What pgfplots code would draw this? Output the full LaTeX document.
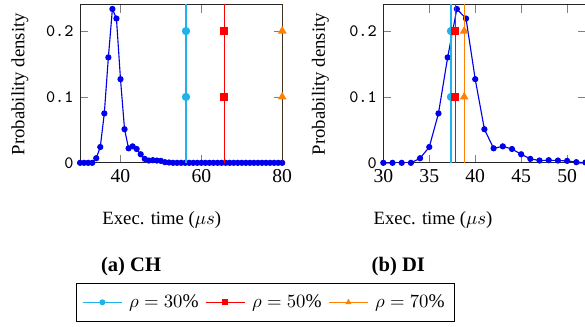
\documentclass[border=0pt]{standalone}
\usepackage{fontspec}
\setmainfont{Liberation Serif}
\usepackage{pgfplots}
\pgfplotsset{compat=1.18}
\definecolor{mycyan}{RGB}{30,180,235}
\definecolor{myorange}{RGB}{255,128,0}
\definecolor{myblue}{RGB}{0,0,235}

\pgfplotstableread{
x y
30 0
31 0
32 0
33 0
34 0.007
35 0.024
36 0.075
37 0.160
38 0.2335
39 0.219
40 0.127
41 0.051
42 0.022
43 0.025
44 0.021
45 0.013
46 0.006
47 0.0035
48 0.004
49 0.0035
50 0.003
51 0.001
52 0.0005
53 0
54 0
55 0
56 0
57 0
58 0
59 0
60 0
61 0
62 0
63 0
64 0
65 0
66 0
67 0
68 0
69 0
70 0
71 0
72 0
73 0
74 0
75 0
76 0
77 0
78 0
79 0
80 0
}\chdata

\pgfplotstableread{
x y
30 0
31 0
32 0
33 0
34 0.007
35 0.024
36 0.075
37 0.160
38 0.2335
39 0.219
40 0.127
41 0.051
42 0.022
43 0.025
44 0.021
45 0.013
46 0.006
47 0.0035
48 0.004
49 0.0035
50 0.003
51 0.001
52 0.0005
}\didata

\pgfplotsset{
  mystyle/.style={
    scale only axis, width=108.03pt, height=84.50pt,
    anchor=south west,
    ymin=0, ymax=0.24, xmin=30,
    ytick={0,0.1,0.2}, yticklabels={0,0.1,0.2},
    yticklabel style={font=\ttfamily\fontsize{9.3}{10}\selectfont},
    xticklabel style={font=\fontsize{10.5}{12}\selectfont},
    clip mode=individual,
    axis line style={black!85},
  },
  datast/.style={myblue, line width=0.6pt, mark=*, mark size=1.35pt, mark options={solid}},
  cst/.style={mycyan, line width=0.6pt, mark=*, mark size=1.9pt, mark indices={2,3}},
  rst/.style={red, line width=0.6pt, mark=square*, mark size=1.8pt, mark indices={2,3}},
  ost/.style={myorange, line width=0.6pt, mark=triangle*, mark size=2.1pt, mark indices={2,3}},
}

\begin{document}
\begin{tikzpicture}
\begin{axis}[mystyle, at={(42.78pt,87.33pt)}, xmax=80,
  xtick={40,60,80}, xticklabels={40,60,80},
  legend columns=3,
  legend style={at={(axis description cs:0.916,-0.882)}, anchor=center,
    draw=black, font=\fontsize{10.3}{12}\selectfont, inner xsep=3pt, inner ysep=4pt,
    /tikz/every odd column/.append style={column sep=1.5pt},
    /tikz/every even column/.append style={column sep=1.5pt}},
  legend image code/.code={\draw[#1,mark indices={2},mark size=1.3pt] plot coordinates {(0cm,0cm) (0.37cm,0cm) (0.74cm,0cm)};},
]
\addplot[datast, forget plot] table {\chdata};
\addplot[cst] coordinates {(56.2,0) (56.2,0.1) (56.2,0.2) (56.2,0.3)};
\addlegendentry{$\rho = 30\%$}
\addplot[rst] coordinates {(65.7,0) (65.7,0.1) (65.7,0.2) (65.7,0.3)};
\addlegendentry{$\rho = 50\%$}
\addplot[ost] coordinates {(80,0) (80,0.1) (80,0.2) (80,0.3)};
\addlegendentry{$\rho = 70\%$}
\end{axis}

\begin{axis}[mystyle, at={(204.83pt,87.33pt)}, xmax=52,
  xtick={30,35,40,45,50}, xticklabels={30,35,40,45,50},
]
\addplot[datast] table {\didata};
\addplot[cst] coordinates {(37.36,0) (37.36,0.1) (37.36,0.2) (37.36,0.3)};
\addplot[rst] coordinates {(37.83,0) (37.83,0.1) (37.83,0.2) (37.83,0.3)};
\addplot[ost] coordinates {(38.8,0) (38.8,0.1) (38.8,0.2) (38.8,0.3)};
\end{axis}

\node[rotate=90, anchor=center] at (10.70pt,129.42pt) {Probability density};
\node[rotate=90, anchor=center] at (171.14pt,129.42pt) {Probability density};
\node[anchor=center] at (86.48pt,56.69pt) {Exec. time ($\mu s$)};
\node[anchor=center] at (231.41pt,56.69pt) {Exec. time ($\mu s$)};
\node[anchor=center, font=\bfseries\fontsize{11}{13}\selectfont] at (70.06pt,31.71pt) {(a) CH};
\node[anchor=center, font=\bfseries\fontsize{11}{13}\selectfont] at (212.85pt,31.71pt) {(b) DI};

\pgfresetboundingbox
\useasboundingbox (0,0) rectangle (312.6pt,174.34pt);
\end{tikzpicture}
\end{document}
